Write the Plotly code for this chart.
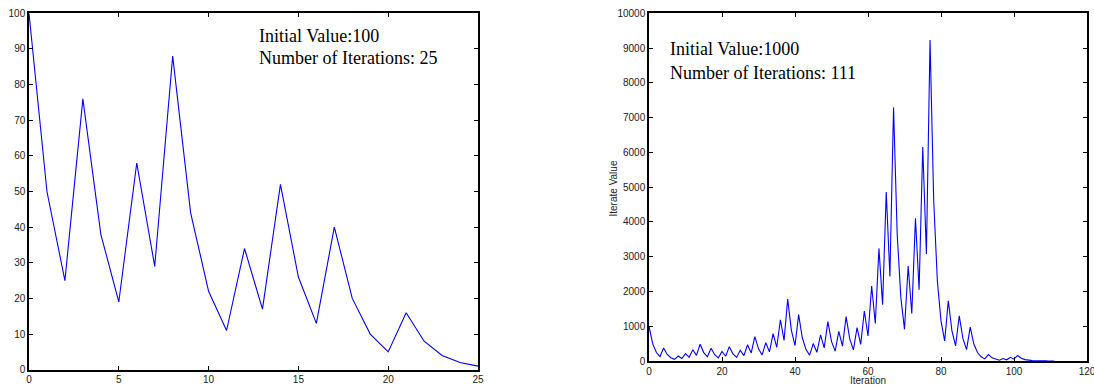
import plotly.graph_objects as go

iter_a = list(range(26))
vals_a = [100, 50, 25, 76, 38, 19, 58, 29, 88, 44, 22, 11, 34, 17, 52, 26, 13, 40, 20, 10, 5, 16, 8, 4, 2, 1]

vals_b = [1000, 500, 250, 125, 376, 188, 94, 47, 142, 71, 214, 107, 322, 161, 484, 242, 121, 364, 182, 91,
          274, 137, 412, 206, 103, 310, 155, 466, 233, 700, 350, 175, 526, 263, 790, 395, 1186, 593, 1780, 890,
          445, 1336, 668, 334, 167, 502, 251, 754, 377, 1132, 566, 283, 850, 425, 1276, 638, 319, 958, 479, 1438,
          719, 2158, 1079, 3238, 1619, 4858, 2429, 7288, 3644, 1822, 911, 2734, 1367, 4102, 2051, 6154, 3077, 9232, 4616, 2308,
          1154, 577, 1732, 866, 433, 1300, 650, 325, 976, 488, 244, 122, 61, 184, 92, 46, 23, 70, 35, 106,
          53, 160, 80, 40, 20, 10, 5, 16, 8, 4, 2, 1]
iter_b = list(range(len(vals_b)))

ticks_a_x = [0, 5, 10, 15, 20, 25]
ticks_a_y = list(range(0, 101, 10))
ticks_b_x = list(range(0, 121, 20))
ticks_b_y = list(range(0, 10001, 1000))

text_a = ["Initial Value:100", "Number of Iterations: 25"]
text_b = ["Initial Value:1000", "Number of Iterations: 111"]

W, H = 1094, 386
fig = go.Figure()
fig.add_trace(go.Scatter(x=iter_a, y=vals_a, mode="lines", line=dict(color="#0000ff", width=1.1),
                         xaxis="x", yaxis="y", showlegend=False))
fig.add_trace(go.Scatter(x=iter_b, y=vals_b, mode="lines", line=dict(color="#0000ff", width=1.1),
                         xaxis="x2", yaxis="y2", showlegend=False))

def px_x(a, b):
    return [a / W, b / W]

def px_y(top, bottom):
    return [1 - bottom / H, 1 - top / H]

axis_common = dict(showline=True, linecolor="black", linewidth=1.5, mirror="ticks", ticks="inside",
                   ticklen=4, tickcolor="black", showgrid=False, zeroline=False, automargin=False,
                   ticklabeloverflow="allow",
                   tickfont=dict(family="Liberation Sans", size=10, color="#222"))

fig.update_layout(
    width=W, height=H,
    margin=dict(l=0, r=0, t=0, b=0),
    plot_bgcolor="white", paper_bgcolor="white",
    xaxis=dict(domain=px_x(29, 478), range=[0, 25], tickvals=ticks_a_x, anchor="y", **axis_common),
    yaxis=dict(domain=px_y(13.3, 369.7), range=[0, 100], tickvals=ticks_a_y, anchor="x", **axis_common),
    xaxis2=dict(domain=px_x(649, 1087), range=[0, 120], tickvals=ticks_b_x, anchor="y2",
                title=dict(text="Iteration", font=dict(family="Liberation Sans", size=10, color="#222"), standoff=0),
                **axis_common),
    yaxis2=dict(domain=px_y(13.3, 361), range=[0, 10000], tickvals=ticks_b_y,
                ticktext=[str(v) for v in ticks_b_y], anchor="x2",
                **axis_common),
)

fig.add_annotation(text="Iterate Value", xref="paper", yref="paper", x=612.5 / W, y=1 - 189 / H,
                   xanchor="center", yanchor="middle", textangle=-90, showarrow=False,
                   font=dict(family="Liberation Sans", size=10, color="#222"))

for txt, yc in zip(text_a, [35.7, 57.7]):
    fig.add_annotation(text=txt, xref="paper", yref="paper", x=257 / W, y=1 - yc / H,
                       xanchor="left", yanchor="middle", showarrow=False,
                       font=dict(family="Liberation Serif", size=18, color="black"))
for txt, yc in zip(text_b, [49, 73]):
    fig.add_annotation(text=txt, xref="paper", yref="paper", x=668 / W, y=1 - yc / H,
                       xanchor="left", yanchor="middle", showarrow=False,
                       font=dict(family="Liberation Serif", size=18, color="black"))

fig.write_html("out.html", config={"displayModeBar": False},
               post_script="document.body.style.margin='0';document.body.style.overflow='hidden';")
